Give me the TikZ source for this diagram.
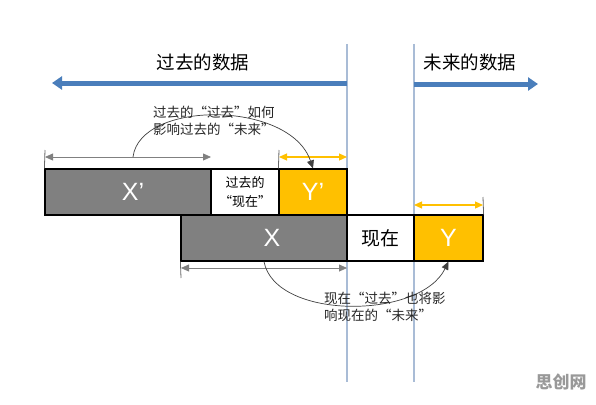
\documentclass[tikz,border=0pt]{standalone}
\usepackage{fontspec}
\setmainfont{Liberation Sans}
\newfontfamily\cjk{Noto Sans CJK SC}
\usetikzlibrary{arrows.meta}
\definecolor{darkgray}{HTML}{808080}
\definecolor{gold}{HTML}{FFC000}
\definecolor{steel}{HTML}{4A7EBB}
\definecolor{paleblue}{HTML}{A9BCD6}
\begin{document}
\begin{tikzpicture}[x=1pt, y=-1pt, >={Triangle[length=8pt,width=7pt]},
    block/.style={draw=black, line width=1.2pt, inner sep=0pt, minimum height=46pt, text=white, font=\fontsize{25}{26}\selectfont},
    label/.style={inner sep=0pt, align=left, text=black!85, font=\cjk\fontsize{13.5}{16.5}\selectfont},
    title/.style={inner sep=0pt, font=\cjk\fontsize{18.5}{20}\selectfont},
    dim/.style={<->, darkgray, line width=0.8pt},
    span/.style={<->, gold, line width=1.2pt},
    tick/.style={black!60, line width=0.8pt},
    data/.style={-{Triangle[length=10pt,width=13pt]}, steel, line width=5pt}]
    \useasboundingbox (0,0) rectangle (596,404);

    % Time lines
    \coordinate (nowtop) at (347,44);
    \coordinate (nowbot) at (347,382);
    \coordinate (futtop) at (414,44);
    \coordinate (futbot) at (414,382);
    \draw[paleblue, line width=1.3pt] (nowtop) -- (nowbot);
    \draw[paleblue, line width=1.3pt] (futtop) -- (futbot);

    % Data arrows
    \coordinate (pastfrom) at (347,83);
    \coordinate (pastto) at (52,83);
    \coordinate (futfrom) at (414,84);
    \coordinate (futto) at (538,84);
    \draw[data] (pastfrom) -- (pastto);
    \draw[data] (futfrom) -- (futto);
    \node[title] at (203,62) (pasttitle) {过去的数据};
    \node[title] at (470,62) (futtitle) {未来的数据};

    % Nodes
    \node[block, fill=darkgray, minimum width=166pt] at (128,192) (xp) {\hspace*{10pt}X’};
    \node[block, fill=white, minimum width=68pt, text=black, align=center,
        font=\cjk\fontsize{13}{19}\selectfont] at (245,192) (nowp) {过去的\\“现在”};
    \node[block, fill=gold, minimum width=68pt] at (313,192) (yp) {Y’};
    \node[block, fill=darkgray, minimum width=166pt] at (264,238) (x) {\hspace*{16pt}X};
    \node[block, fill=white, minimum width=67pt, text=black,
        font=\cjk\fontsize{19}{20}\selectfont] at (380.5,238) (now) {现在};
    \node[block, fill=gold, minimum width=69pt] at (448.5,238) (y) {Y};

    % Spans
    \coordinate (xpl) at (45,157);
    \coordinate (xpr) at (211,157);
    \coordinate (xptick) at (45,150);
    \draw[tick] (xptick) -- (xp.north west);
    \draw[dim] (xpl) -- (xpr);

    \coordinate (ypl) at (279,157);
    \coordinate (ypr) at (347,157);
    \coordinate (yptick) at (279,150);
    \draw[tick] (yptick) -- (yp.north west);
    \draw[span] (ypl) -- (ypr);

    \coordinate (yl) at (414,205);
    \coordinate (yr) at (483,205);
    \coordinate (ytick) at (483,197);
    \draw[tick] (ytick) -- (y.north east);
    \draw[span] (yl) -- (yr);

    \coordinate (xl) at (181,268);
    \coordinate (xr) at (347,268);
    \coordinate (xtick) at (181,278);
    \draw[tick] (xtick) -- (x.south west);
    \draw[dim] (xl) -- (xr);

    % Influence
    \coordinate (pastfrom2) at (133,157);
    \draw[->, black!75, line width=0.7pt] (pastfrom2) .. controls (140,100) and (290,100) .. (yp.north);
    \draw[->, black!75, line width=0.7pt] (x.south) .. controls (275,320) and (420,320) .. (y.south);
    \node[label, anchor=north west] at (153,106) (pastnote) {过去的“过去”如何\\影响过去的“未来”};
    \node[label, anchor=north west] at (324,292) (nownote) {现在“过去”也将影\\响现在的“未来”};

    \node[text=black!40, font=\cjk\bfseries\fontsize{17}{18}\selectfont] at (561,382) (mark) {思创网};
\end{tikzpicture}
\end{document}
